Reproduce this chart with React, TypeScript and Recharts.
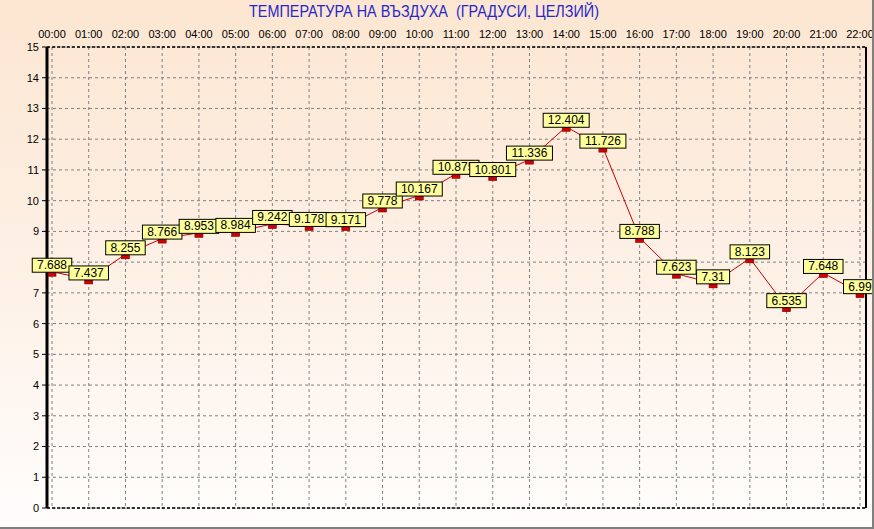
import { LineChart, Line, XAxis, YAxis, CartesianGrid } from 'recharts'

const hours = [
  '00:00', '01:00', '02:00', '03:00', '04:00', '05:00', '06:00', '07:00',
  '08:00', '09:00', '10:00', '11:00', '12:00', '13:00', '14:00', '15:00',
  '16:00', '17:00', '18:00', '19:00', '20:00', '21:00', '22:00'
]

const temps = [
  7.688, 7.437, 8.255, 8.766, 8.953, 8.984, 9.242, 9.178,
  9.171, 9.778, 10.167, 10.875, 10.801, 11.336, 12.404, 11.726,
  8.788, 7.623, 7.31, 8.123, 6.535, 7.648, 6.99
]

const yTicks = [0, 1, 2, 3, 4, 5, 6, 7, 8, 9, 10, 11, 12, 13, 14, 15]

const title = 'ТЕМПЕРАТУРА НА ВЪЗДУХА  (ГРАДУСИ, ЦЕЛЗИЙ)'

const data = hours.map((t, i) => ({ t, v: temps[i] }))

// small red box marker just under the point
const renderDot = (p: any) => (
  <rect
    key={'d' + p.index}
    x={p.cx - 4}
    y={p.cy + 0.5}
    width={8}
    height={4}
    fill="#d00000"
    stroke="#7a0000"
    strokeWidth={0.6}
  />
)

// yellow value tag sitting on top of the marker
const renderTag = (p: any) => {
  const txt = String(p.value)
  const w = txt.length * 6.5 + 7
  return (
    <g key={'l' + p.index}>
      <rect x={p.x - w / 2} y={p.y - 13.5} width={w} height={14} fill="#ffff9c" stroke="#000" strokeWidth={1} />
      <text x={p.x} y={p.y - 2.5} textAnchor="middle" fontSize={12} fill="#000">
        {txt}
      </text>
    </g>
  )
}

export default function App() {
  return (
    <div
      style={{
        position: 'fixed',
        left: 0,
        top: 0,
        width: 874,
        height: 529,
        boxSizing: 'border-box',
        borderRight: '2px solid #808080',
        borderBottom: '2px solid #808080',
        background: 'linear-gradient(to bottom, #fce6d1 0%, #fdf0e5 50%, #fffdfc 100%)',
        fontFamily: '"Liberation Sans", Arial, sans-serif',
      }}
    >
      <div
        style={{
          position: 'absolute',
          top: 3,
          left: 0,
          width: 848,
          textAlign: 'center',
          fontSize: 16,
          color: '#2626cc',
          whiteSpace: 'pre',
          transform: 'scaleX(0.9)',
        }}
      >
        {title}
      </div>
      <LineChart width={872} height={527} data={data} margin={{ top: 0, right: 5, bottom: 18, left: 0 }}>
        <CartesianGrid stroke="#808080" strokeDasharray="3 3" />
        <XAxis
          dataKey="t"
          orientation="top"
          height={47}
          padding={{ left: 5, right: 6 }}
          interval={0}
          tickLine={false}
          tickSize={0}
          tickMargin={9}
          tick={{ fontSize: 11, fill: '#000' }}
          axisLine={{ stroke: '#000', strokeWidth: 1.5, strokeDasharray: '3 2' }}
        />
        <XAxis
          xAxisId="b"
          dataKey="t"
          orientation="bottom"
          height={1}
          padding={{ left: 5, right: 6 }}
          tick={false}
          tickLine={false}
          axisLine={{ stroke: '#000', strokeWidth: 1.5, strokeDasharray: '3 2' }}
        />
        <YAxis
          domain={[0, 15]}
          ticks={yTicks}
          interval={0}
          width={47}
          tickSize={5}
          tickMargin={3}
          tick={{ fontSize: 11, fill: '#000' }}
          tickLine={{ stroke: '#000' }}
          axisLine={{ stroke: '#000', strokeWidth: 3 }}
        />
        <YAxis
          yAxisId="r"
          orientation="right"
          domain={[0, 15]}
          width={1}
          tick={false}
          tickLine={false}
          axisLine={{ stroke: '#000', strokeWidth: 2 }}
        />
        <Line
          dataKey="v"
          stroke="#cc0000"
          strokeWidth={1}
          dot={renderDot}
          label={renderTag}
          isAnimationActive={false}
        />
      </LineChart>
    </div>
  )
}
